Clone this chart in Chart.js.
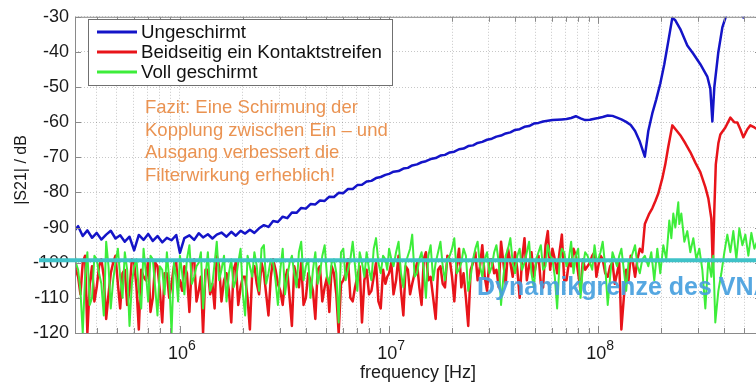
<!DOCTYPE html>
<html>
<head>
<meta charset="utf-8">
<script src="https://cdn.jsdelivr.net/npm/chart.js@4.4.1/dist/chart.umd.min.js"></script>
<style>
html,body{margin:0;padding:0;background:#fff;overflow:hidden;}
#wrap{width:756px;height:384px;overflow:hidden;position:relative;}
canvas{display:block;}
</style>
</head>
<body>
<div id="wrap"><canvas id="c" width="766" height="384"></canvas></div>
<script>
// ---------------- DATA ----------------
const seriesLabels = ['Ungeschirmt', 'Beidseitig ein Kontaktstreifen', 'Voll geschirmt'];

// frequency grid for the noisy part (Hz)
const noiseFreq = [
  3.1e5,3.26e5,3.43e5,3.61e5,3.8e5,4.0e5,4.21e5,4.44e5,4.67e5,4.92e5,5.18e5,5.45e5,5.74e5,6.04e5,6.36e5,6.7e5,7.05e5,7.42e5,7.81e5,8.23e5,8.66e5,9.12e5,9.6e5,
  1.0e6,1.05e6,1.11e6,1.17e6,1.23e6,1.29e6,1.36e6,1.43e6,1.5e6,1.58e6,1.67e6,1.76e6,1.85e6,1.95e6,2.05e6,2.16e6,2.27e6,2.39e6,2.52e6,2.65e6,2.79e6,2.94e6,3.1e6,3.26e6,3.43e6,3.61e6,3.8e6,4.0e6,4.21e6,4.44e6,4.67e6,4.92e6,5.18e6,5.45e6,5.74e6,6.04e6,6.36e6,6.7e6,7.05e6,7.42e6,7.81e6,8.23e6,8.66e6,9.12e6,9.6e6,
  1.0e7,1.05e7,1.11e7,1.17e7,1.23e7,1.29e7,1.36e7,1.43e7,1.5e7,1.58e7,1.67e7,1.76e7,1.85e7,1.95e7,2.05e7,2.16e7,2.27e7,2.39e7,2.52e7,2.65e7,2.79e7,2.94e7,3.1e7,3.26e7,3.43e7,3.61e7,3.8e7,4.0e7,4.21e7,4.44e7,4.67e7,4.92e7,5.18e7,5.45e7,5.74e7,6.04e7,6.36e7,6.7e7,7.05e7,7.42e7,7.81e7,8.23e7,8.66e7,9.12e7,9.6e7,
  1.0e8,1.05e8,1.11e8,1.17e8,1.23e8,1.29e8,1.36e8,1.43e8,1.5e8,1.58e8,1.67e8
];
// in-between frequencies, measured only for the dense noisy traces (Hz)
const noiseFreqMid = [
  3.18e5,3.345e5,3.52e5,3.705e5,3.9e5,4.105e5,4.325e5,4.555e5,4.795e5,5.05e5,5.315e5,5.595e5,5.89e5,6.2e5,6.53e5,6.875e5,7.235e5,7.615e5,8.02e5,8.445e5,8.89e5,9.36e5,9.8e5,
  1.025e6,1.08e6,1.14e6,1.2e6,1.26e6,1.325e6,1.395e6,1.465e6,1.54e6,1.625e6,1.715e6,1.805e6,1.9e6,2.0e6,2.105e6,2.215e6,2.33e6,2.455e6,2.585e6,2.72e6,2.865e6,3.02e6,3.18e6,3.345e6,3.52e6,3.705e6,3.9e6,4.105e6,4.325e6,4.555e6,4.795e6,5.05e6,5.315e6,5.595e6,5.89e6,6.2e6,6.53e6,6.875e6,7.235e6,7.615e6,8.02e6,8.445e6,8.89e6,9.36e6,9.8e6,
  1.025e7,1.08e7,1.14e7,1.2e7,1.26e7,1.325e7,1.395e7,1.465e7,1.54e7,1.625e7,1.715e7,1.805e7,1.9e7,2.0e7,2.105e7,2.215e7,2.33e7,2.455e7,2.585e7,2.72e7,2.865e7,3.02e7,3.18e7,3.345e7,3.52e7,3.705e7,3.9e7,4.105e7,4.325e7,4.555e7,4.795e7,5.05e7,5.315e7,5.595e7,5.89e7,6.2e7,6.53e7,6.875e7,7.235e7,7.615e7,8.02e7,8.445e7,8.89e7,9.36e7,9.8e7,
  1.025e8,1.08e8,1.14e8,1.2e8,1.26e8,1.325e8,1.395e8,1.465e8,1.54e8,1.625e8
];

// Ungeschirmt (blue)
const blueNoiseDb = [
  -91.2,-89.6,-92.4,-90.8,-92.9,-91.5,-93.4,-92.0,-90.9,-93.1,-92.2,-94.0,-92.6,-96.5,-92.1,-93.5,-91.8,-93.8,-92.4,-94.2,-92.9,-93.6,-92.1,
  -97.2,-93.0,-92.2,-93.5,-91.6,-92.8,-91.9,-93.1,-92.0,-91.4,-92.6,-91.2,-92.3,-90.9,-91.7,-90.6,-91.5,-90.2,-89.3,-89.8,-88.1,-88.4,-86.9,-87.3,-85.7,-85.8,-84.4,-84.6,-83.3,-83.4,-82.3,-82.4,-81.2,-81.3,-80.1,-80.2,-79.0,-79.0,-77.9,-77.8,-76.9,-76.7,-75.9,-75.6,-75.0,
  -74.7,-74.1,-73.9,-73.2,-73.0,-72.3,-72.0,-71.4,-71.1,-70.5,-70.2,-69.5,-69.3,-68.6,-68.4,-67.7,-67.5,-66.8,-66.6,-65.9,-65.6,-65.0,-64.7,-64.1,-63.8,-63.2,-62.9,-62.2,-62.0,-61.3,-61.1,-60.4,-60.2,-59.8,-59.6,-59.4,-59.3,-59.2,-59.1,-58.8,-58.3,-58.9,-59.4,-59.3,-59.0,
  -58.8,-58.5,-58.1,-58.2,-58.7,-59.2,-59.9,-60.8,-62.5,-65.5,-69.8
];
const blueTailFreq = [1.735e8,1.813e8,1.894e8,1.98e8,2.069e8,2.162e8,2.26e8,2.336e8,2.468e8,2.666e8,2.848e8,3.076e8,3.322e8,3.435e8,3.512e8,3.589e8,3.752e8,3.921e8,4.097e8,4.3e8,4.523e8,4.8e8,4.941e8,5.08e8,5.4e8,5.83e8,6.1e8];
const blueTailDb   = [-62.5,-57.5,-53.5,-49,-43.5,-37,-30.3,-31,-33.5,-38.2,-40.5,-43.5,-47,-50.5,-59.8,-50,-40,-33,-29.5,-26,-24,-27,-30.2,-27,-25,-24,-24];

// Beidseitig ein Kontaktstreifen (red)
const redNoiseDb = [
  -97,-104,-100,-120,-101,-107,-99,-116,-103,-98,-113,-102,-108,-100,-119,-104,-99,-110,-101,-117,-103,-106,-100,
  -105,-101,-114,-99,-108,-120,-102,-106,-98,-111,-103,-117,-100,-107,-104,-119,-101,-109,-103,-115,-99,-106,-112,-102,-118,-104,-100,-110,-105,-116,-101,-107,-114,-103,-120,-105,-99,-111,-104,-117,-102,-108,-100,-113,-106,
  -103,-109,-98,-115,-102,-106,-100,-112,-97,-104,-116,-101,-107,-99,-111,-96,-103,-118,-100,-105,-95,-108,-99,-102,-94,-106,-100,-97,-110,-93,-101,-104,-98,-107,-91,-96,-103,-92,-105,-101,-98,-108,-102,-100,-97,
  -101,-99,-104,-100,-103,-119,-102,-98,-104,-96,-89
];
const redMidDb = [
  -102,-109,-98,-106,-111,-101,-104,-109,-100,-106,-103,-112,-99,-107,-102,-105,-114,-100,-108,-103,-110,-101,-107,
  -108,-103,-100,-111,-104,-102,-109,-113,-101,-105,-108,-102,-112,-104,-110,-103,-106,-100,-109,-104,-102,-108,-105,-110,-101,-107,-112,-103,-108,-102,-111,-104,-101,-109,-106,-103,-110,-107,-101,-105,-109,-104,-111,-102,-104,
  -100,-105,-108,-101,-109,-103,-107,-99,-105,-110,-102,-106,-98,-104,-101,-107,-110,-102,-97,-101,-104,-99,-103,-107,-100,-96,-104,-102,-99,-105,-97,-100,-106,-95,-102,-99,-97,-105,-100,-96,-103,-99,-101,-98,-104,
  -98,-103,-101,-106,-100,-110,-105,-100,-99,-97
];
const redTailFreq = [1.754e8,1.813e8,1.874e8,1.937e8,2.024e8,2.092e8,2.162e8,2.26e8,2.362e8,2.468e8,2.608e8,2.755e8,2.912e8,3.076e8,3.251e8,3.36e8,3.473e8,3.53e8,3.589e8,3.648e8,3.752e8,3.835e8,4.053e8,4.282e8,4.474e8,4.624e8,4.779e8,4.941e8,5.163e8,5.337e8,5.578e8,5.83e8,6.1e8];
const redTailDb   = [-86,-84.5,-82.5,-80.3,-76,-72,-67,-60.9,-62.3,-63.7,-66,-68.5,-71.5,-74.2,-78.5,-81.7,-87.4,-101.4,-85,-72,-66,-63.5,-61.5,-58.7,-60,-60.1,-62,-64.3,-62,-60.9,-61.5,-62.2,-62];

// Voll geschirmt (green)
const greenNoiseDb = [
  -95,-102,-120,-97,-110,-99,-106,-94,-113,-100,-104,-97,-118,-101,-108,-96,-111,-99,-115,-102,-97,-120,-104,
  -98,-109,-95,-104,-100,-113,-97,-106,-94,-102,-111,-99,-105,-96,-115,-101,-97,-108,-95,-103,-100,-112,-96,-104,-98,-107,-94,-101,-110,-97,-103,-95,-106,-99,-117,-96,-102,-94,-108,-100,-97,-105,-93,-103,-99,
  -96,-101,-94,-107,-98,-92,-103,-97,-110,-95,-100,-94,-105,-98,-93,-102,-96,-108,-99,-94,-104,-97,-101,-95,-112,-98,-93,-103,-96,-100,-94,-107,-97,-102,-95,-99,-113,-96,-101,-94,-98,-110,-97,-100,-95,
  -99,-94,-112,-97,-101,-96,-108,-99,-95,-103,-98
];
const greenMidDb = [
  -100,-108,-104,-112,-98,-103,-115,-101,-105,-96,-110,-102,-106,-99,-113,-103,-98,-107,-101,-109,-105,-100,-111,
  -103,-99,-106,-101,-97,-104,-108,-100,-105,-98,-103,-107,-100,-109,-98,-104,-101,-96,-106,-99,-105,-102,-109,-100,-103,-97,-105,-99,-102,-106,-98,-104,-100,-103,-97,-105,-99,-101,-97,-104,-102,-96,-100,-98,-102,
  -99,-97,-103,-100,-96,-104,-99,-102,-98,-105,-97,-101,-99,-96,-103,-100,-98,-104,-96,-101,-99,-103,-97,-100,-104,-96,-100,-98,-102,-97,-103,-99,-95,-101,-98,-104,-100,-97,-99,-103,-96,-101,-98,-102,-99,
  -97,-101,-104,-99,-98,-102,-100,-97,-101,-99
];
const greenTailFreq = [1.735e8,1.793e8,1.853e8,1.916e8,1.98e8,2.047e8,2.115e8,2.186e8,2.236e8,2.285e8,2.336e8,2.414e8,2.441e8,2.496e8,2.58e8,2.666e8,2.755e8,2.848e8,2.944e8,3.042e8,3.145e8,3.251e8,3.36e8,3.473e8,3.549e8,3.628e8,3.752e8,3.878e8,4.009e8,4.142e8,4.282e8,4.424e8,4.574e8,4.727e8,4.887e8,5.051e8,5.221e8,5.397e8,5.578e8,5.83e8,6.1e8];
const greenTailDb   = [-101,-97,-105,-96,-103,-95,-99,-88,-93,-86,-90,-82.8,-89,-86,-94,-91,-97,-93,-99,-96,-102,-113,-99,-104,-98,-117,-108,-103,-97,-92,-97,-91,-99,-90.2,-95,-92,-98,-91.5,-96,-93,-95];

// axes / ticks
const xMin = 3.15e5, xMax = 6e8;
const yMin = -120, yMax = -30, yStep = 10;
const xGridValues = [4e5,5e5,6e5,7e5,8e5,9e5,1e6,2e6,3e6,4e6,5e6,6e6,7e6,8e6,9e6,1e7,2e7,3e7,4e7,5e7,6e7,7e7,8e7,9e7,1e8,2e8,3e8,4e8,5e8];
const xLabelValues = [1e6, 1e7, 1e8];
const xLabelExponents = ['6', '7', '8'];
const vnaLimitDb = -99.3;
const xTitle = 'frequency [Hz]';
const yTitle = '|S21| / dB';
const noteLines = ['Fazit: Eine Schirmung der', 'Kopplung zwischen Ein \u2013 und', 'Ausgang verbessert die', 'Filterwirkung erheblich!'];
const vnaText = 'Dynamikgrenze des VNA';

// ---------------- CHART ----------------
const FONT = '"Liberation Sans", Arial, sans-serif';
function pts(fa, da) { return fa.map((f, i) => ({x: f, y: da[i]})); }
function byX(a, b) { return a.x - b.x; }

const colors = ['#1414c8', '#e8141a', '#3ded3a'];

const deco = {
  id: 'deco',
  afterDatasetsDraw(chart) {
    const {ctx, chartArea: a, scales: {x, y}} = chart;
    ctx.save();
    // plot box
    ctx.strokeStyle = '#8a8a8a';
    ctx.lineWidth = 1;
    ctx.strokeRect(a.left + 0.5, a.top + 0.5, a.right - a.left, a.bottom - a.top);
    // inward ticks
    ctx.beginPath();
    xGridValues.forEach(v => {
      const px = Math.round(x.getPixelForValue(v)) + 0.5;
      const len = xLabelValues.includes(v) ? 7 : 5;
      ctx.moveTo(px, a.top); ctx.lineTo(px, a.top + len);
      ctx.moveTo(px, a.bottom); ctx.lineTo(px, a.bottom - len);
    });
    for (let v = yMin; v <= yMax; v += yStep) {
      const py = Math.round(y.getPixelForValue(v)) + 0.5;
      ctx.moveTo(a.left, py); ctx.lineTo(a.left + 6, py);
      ctx.moveTo(a.right, py); ctx.lineTo(a.right - 6, py);
    }
    ctx.stroke();

    // VNA limit line
    const yl = y.getPixelForValue(vnaLimitDb);
    ctx.strokeStyle = '#3fc2c8';
    ctx.lineWidth = 4;
    ctx.beginPath(); ctx.moveTo(39, yl); ctx.lineTo(chart.width, yl); ctx.stroke();

    // VNA text
    ctx.fillStyle = 'rgba(70,160,222,0.92)';
    ctx.font = 'bold 25px ' + FONT;
    ctx.textAlign = 'left'; ctx.textBaseline = 'alphabetic';
    ctx.fillText(vnaText, 477, 295);

    // note text
    ctx.fillStyle = '#ea9352';
    ctx.font = '18.5px ' + FONT;
    noteLines.forEach((t, i) => ctx.fillText(t, 145, 113 + i * 22.5));

    // legend
    ctx.fillStyle = '#fff';
    ctx.fillRect(88.5, 19.5, 304, 66);
    ctx.strokeStyle = '#707070'; ctx.lineWidth = 1;
    ctx.strokeRect(88.5, 19.5, 304, 66);
    chart.data.datasets.forEach((ds, i) => {
      const ly = 32 + i * 20;
      ctx.strokeStyle = ds.borderColor; ctx.lineWidth = 3;
      ctx.beginPath(); ctx.moveTo(97, ly); ctx.lineTo(137, ly); ctx.stroke();
      ctx.fillStyle = '#111';
      ctx.font = '18.7px ' + FONT;
      ctx.textBaseline = 'middle';
      ctx.fillText(ds.label, 141, ly + 1);
    });

    // x tick labels with superscripts
    ctx.fillStyle = '#1a1a1a';
    ctx.textBaseline = 'alphabetic';
    xLabelValues.forEach((v, i) => {
      const px = x.getPixelForValue(v);
      ctx.font = '18px ' + FONT;
      const w1 = ctx.measureText('10').width;
      ctx.font = '14px ' + FONT;
      const w2 = ctx.measureText(xLabelExponents[i]).width;
      const sx = px - (w1 + w2) / 2 + 2;
      ctx.font = '18px ' + FONT;
      ctx.fillText('10', sx, 359);
      ctx.font = '14px ' + FONT;
      ctx.fillText(xLabelExponents[i], sx + w1, 350);
    });

    // axis titles
    ctx.font = '18px ' + FONT;
    ctx.textAlign = 'center'; ctx.textBaseline = 'middle';
    ctx.fillText(xTitle, (a.left + a.right) / 2, 373);
    ctx.save();
    ctx.translate(22, 170);
    ctx.rotate(-Math.PI / 2);
    ctx.font = '16px ' + FONT;
    ctx.fillText(yTitle, 0, 0);
    ctx.restore();

    ctx.restore();
  }
};

const blueData = pts(noiseFreq.concat(blueTailFreq), blueNoiseDb.concat(blueTailDb));
const redData = pts(noiseFreq, redNoiseDb).concat(pts(noiseFreqMid, redMidDb)).sort(byX).concat(pts(redTailFreq, redTailDb));
const greenData = pts(noiseFreq, greenNoiseDb).concat(pts(noiseFreqMid, greenMidDb)).sort(byX).concat(pts(greenTailFreq, greenTailDb));

new Chart(document.getElementById('c').getContext('2d'), {
  type: 'line',
  data: {
    datasets: [
      {label: seriesLabels[0], data: blueData, borderColor: colors[0], borderWidth: 2.5, order: 0},
      {label: seriesLabels[1], data: redData, borderColor: colors[1], borderWidth: 2.5, order: 2},
      {label: seriesLabels[2], data: greenData, borderColor: colors[2], borderWidth: 2, order: 1}
    ]
  },
  options: {
    responsive: false,
    animation: false,
    devicePixelRatio: 1,
    elements: {point: {radius: 0}, line: {tension: 0, borderJoinStyle: 'round', borderCapStyle: 'round'}},
    layout: {padding: {top: 13, right: 5, left: 0, bottom: 0}},
    plugins: {legend: {display: false}, tooltip: {enabled: false}, title: {display: false}},
    scales: {
      x: {
        type: 'logarithmic', min: xMin, max: xMax,
        afterBuildTicks: s => { s.ticks = xGridValues.map(v => ({value: v})); },
        afterFit: s => { s.height = 51; },
        ticks: {display: false},
        grid: {color: 'rgba(0,0,0,0.22)', lineWidth: 1, drawTicks: false},
        border: {display: false, dash: [1, 2]}
      },
      y: {
        type: 'linear', min: yMin, max: yMax,
        afterFit: s => { s.width = 75; },
        ticks: {stepSize: yStep, padding: 6, color: '#1a1a1a', font: {family: FONT, size: 18}},
        grid: {color: 'rgba(0,0,0,0.22)', lineWidth: 1, drawTicks: false},
        border: {display: false, dash: [1, 2]}
      }
    }
  },
  plugins: [deco]
});
</script>
</body>
</html>
